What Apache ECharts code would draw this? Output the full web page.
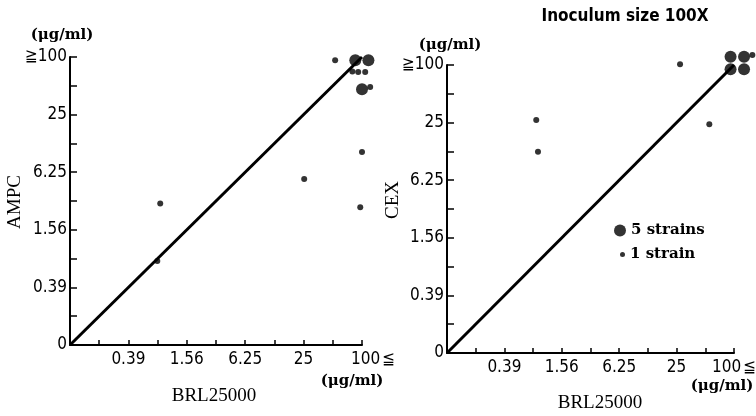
<!DOCTYPE html>
<html><head><meta charset="utf-8">
<script src="https://cdn.jsdelivr.net/npm/echarts@6/dist/echarts.min.js"></script>
<style>html,body{margin:0;padding:0;background:#fff}#c{width:756px;height:416px}</style>
</head><body><div id="c"></div>
<script>
// Two-fold dilution scale, index 0..10 (µg/ml)
const scaleValues = ['0','0.195','0.39','0.78','1.56','3.12','6.25','12.5','25','50','100'];
const scaleLabels = ['0','','0.39','','1.56','','6.25','','25','','100'];

// Left panel: AMPC vs BRL25000 (positions on the dilution index scale)
const ampcLargeX = [9.77, 10.22, 10.0];
const ampcLargeY = [9.89, 9.89, 8.88];
const ampcSmallX = [9.08, 9.67, 9.87, 10.11, 10.28, 10.0, 8.02, 3.09, 9.94, 2.99];
const ampcSmallY = [9.89, 9.50, 9.48, 9.48, 8.96, 6.70, 5.76, 4.91, 4.78, 2.92];

// Right panel: CEX vs BRL25000
const cexLargeX = [9.88, 10.35, 9.88, 10.35];
const cexLargeY = [10.29, 10.29, 9.85, 9.85];
const cexSmallX = [10.64, 3.11, 3.17, 8.12, 9.14];
const cexSmallY = [10.35, 8.09, 6.99, 10.03, 7.94];

// Line of equality
const diagonalX = [0, 10];
const diagonalY = [0, 10];

const zip = (a, b) => a.map((v, i) => [v, b[i]]);

const tickFont = '"DejaVu Sans Condensed", "Liberation Sans Narrow", sans-serif';
const serifFont = '"Liberation Serif", serif';
const unitFont = '"DejaVu Serif", "Liberation Serif", serif';
const tickSize = 17;

function xAxisDef(gi, pad) {
  return {
    gridIndex: gi, type: 'value', min: 0, max: 10, interval: 1,
    axisLine: {lineStyle: {color: '#000', width: 2}},
    axisTick: {inside: true, length: 5, lineStyle: {color: '#000', width: 1.5}},
    splitLine: {show: false},
    axisLabel: {
      margin: 6, color: '#000', fontFamily: tickFont, fontSize: tickSize,
      formatter: v => v === 0 ? '' : (v === 10 ? '{a|' + scaleLabels[v] + '}{b|≦}' : scaleLabels[v] || ''),
      rich: {
        a: {fontFamily: tickFont, fontSize: tickSize, color: '#000', padding: [0, 0, 0, pad]},
        b: {fontFamily: tickFont, fontSize: tickSize, color: '#000', padding: [0, 0, 0, 2]}
      }
    }
  };
}
function yAxisDef(gi) {
  return {
    gridIndex: gi, type: 'value', min: 0, max: 10, interval: 1,
    axisLine: {lineStyle: {color: '#000', width: 2}},
    axisTick: {inside: true, length: 7, lineStyle: {color: '#000', width: 1.5}},
    splitLine: {show: false},
    axisLabel: {
      margin: 3, color: '#000', fontFamily: tickFont, fontSize: tickSize,
      formatter: v => v === 10 ? '≧' + scaleLabels[v] : (scaleLabels[v] || '')
    }
  };
}

const chart = echarts.init(document.getElementById('c'), null, {renderer: 'canvas'});
const legendText = {color: '#000', fontFamily: unitFont, fontWeight: 'bold', fontSize: 15};

chart.setOption({
  backgroundColor: '#fff',
  animation: false,
  grid: [
    {left: 70, top: 57, width: 292, height: 288, outerBoundsMode: 'none', containLabel: false},
    {left: 447, top: 65, width: 287, height: 288, outerBoundsMode: 'none', containLabel: false}
  ],
  xAxis: [xAxisDef(0, 22), xAxisDef(1, 0)],
  yAxis: [yAxisDef(0), yAxisDef(1)],
  legend: [
    {data: ['5 strains'], left: 614, top: 223, padding: 0, icon: 'circle', itemWidth: 12, itemHeight: 12, textStyle: legendText, selectedMode: false},
    {data: ['1 strain'], left: 620, top: 247, padding: 0, icon: 'circle', itemWidth: 5, itemHeight: 5, textStyle: legendText, selectedMode: false}
  ],
  series: [
    {type: 'line', xAxisIndex: 0, yAxisIndex: 0, data: zip(diagonalX, diagonalY), symbol: 'none', lineStyle: {color: '#000', width: 3}, z: 1},
    {type: 'line', xAxisIndex: 1, yAxisIndex: 1, data: zip(diagonalX, diagonalY), symbol: 'none', lineStyle: {color: '#000', width: 3}, z: 1},
    {name: '5 strains', type: 'scatter', xAxisIndex: 0, yAxisIndex: 0, data: zip(ampcLargeX, ampcLargeY), symbol: 'circle', symbolSize: 12, itemStyle: {color: '#000'}, clip: false, z: 3},
    {name: '1 strain', type: 'scatter', xAxisIndex: 0, yAxisIndex: 0, data: zip(ampcSmallX, ampcSmallY), symbol: 'circle', symbolSize: 6, itemStyle: {color: '#000'}, clip: false, z: 3},
    {name: '5 strains', type: 'scatter', xAxisIndex: 1, yAxisIndex: 1, data: zip(cexLargeX, cexLargeY), symbol: 'circle', symbolSize: 12, itemStyle: {color: '#000'}, clip: false, z: 3},
    {name: '1 strain', type: 'scatter', xAxisIndex: 1, yAxisIndex: 1, data: zip(cexSmallX, cexSmallY), symbol: 'circle', symbolSize: 6, itemStyle: {color: '#000'}, clip: false, z: 3}
  ],
  graphic: [
    {type: 'text', x: 625, y: 17, style: {text: 'Inoculum size 100X', align: 'center', verticalAlign: 'middle', fill: '#000', font: 'bold 17px "DejaVu Sans Condensed", "Liberation Sans Narrow", sans-serif'}},
    {type: 'text', x: 62, y: 35, style: {text: '(μg/ml)', align: 'center', verticalAlign: 'middle', fill: '#000', font: 'bold 15px ' + unitFont}},
    {type: 'text', x: 450, y: 45, style: {text: '(μg/ml)', align: 'center', verticalAlign: 'middle', fill: '#000', font: 'bold 15px ' + unitFont}},
    {type: 'text', x: 352, y: 381, style: {text: '(μg/ml)', align: 'center', verticalAlign: 'middle', fill: '#000', font: 'bold 15px ' + unitFont}},
    {type: 'text', x: 722, y: 386, style: {text: '(μg/ml)', align: 'center', verticalAlign: 'middle', fill: '#000', font: 'bold 15px ' + unitFont}},
    {type: 'text', x: 214, y: 396, style: {text: 'BRL25000', align: 'center', verticalAlign: 'middle', fill: '#000', font: '19px ' + serifFont}},
    {type: 'text', x: 600, y: 403, style: {text: 'BRL25000', align: 'center', verticalAlign: 'middle', fill: '#000', font: '19px ' + serifFont}},
    {type: 'text', x: 15, y: 202, rotation: Math.PI / 2, style: {text: 'AMPC', align: 'center', verticalAlign: 'middle', fill: '#000', font: '19px ' + serifFont}},
    {type: 'text', x: 393, y: 200, rotation: Math.PI / 2, style: {text: 'CEX', align: 'center', verticalAlign: 'middle', fill: '#000', font: '19px ' + serifFont}}
  ]
});
</script></body></html>
